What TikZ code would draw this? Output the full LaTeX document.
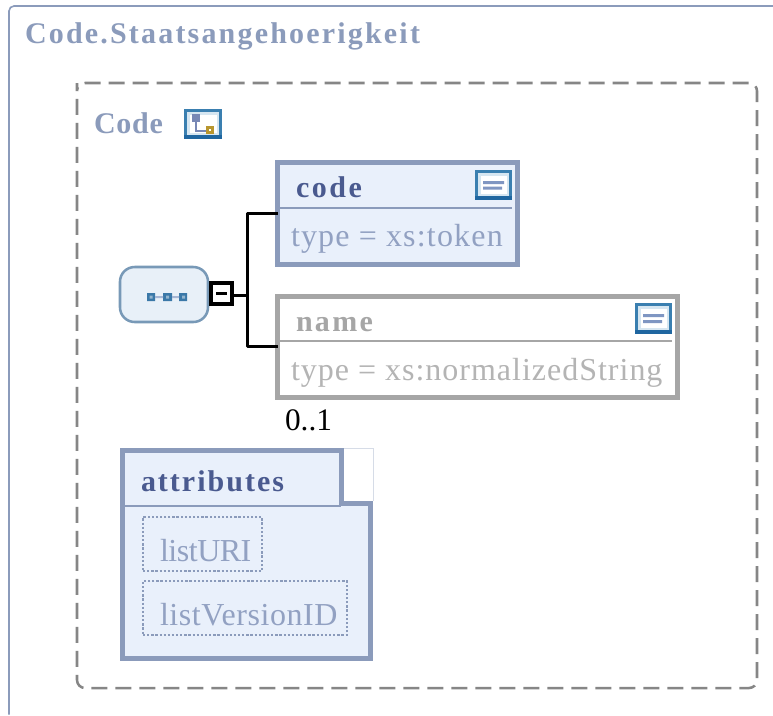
\documentclass[tikz,border=0pt]{standalone}
\usepackage{fontspec}
\setmainfont{Liberation Serif}
\definecolor{frameblue}{HTML}{8B9BBB}
\definecolor{panelfill}{HTML}{E9F0FB}
\definecolor{headblue}{HTML}{4A5A8F}
\definecolor{typeblue}{HTML}{92A1C2}
\definecolor{optgray}{HTML}{A6A6A6}
\definecolor{typegray}{HTML}{B4B4B4}
\definecolor{dashgray}{HTML}{868686}
\definecolor{seqedge}{HTML}{7899B7}
\definecolor{seqfill}{HTML}{E8F0F8}
\definecolor{icontop}{HTML}{3A7FB0}
\definecolor{iconlow}{HTML}{1F66A0}
\definecolor{iconin}{HTML}{D6E6F1}
\definecolor{iconbar}{HTML}{7F96C2}
\definecolor{icongold}{HTML}{B8962E}
\definecolor{iconnode}{HTML}{7888B5}
\definecolor{dotblue}{HTML}{3A78A8}
\newcommand{\lsp}[1]{\addfontfeature{LetterSpace=#1}}
\newcommand{\doticon}[4]{% x1,y1,x2,y2
  \fill[icontop] (#1,#2) rectangle (#3,#4);
  \fill[iconlow] (#1,#4-4) rectangle (#3,#4);
  \fill[iconin] (#1+3,#2+3) rectangle (#3-3,#4-4);
  \fill[white] (#1+6,#2+6) rectangle (#3-5,#4-6);
}
\tikzset{
  x=0.75pt,y=-0.75pt,
  txt/.style={anchor=base west,inner sep=0pt,outer sep=0pt,font=\fontsize{24pt}{26pt}\selectfont},
  boldtxt/.style={txt,font=\fontsize{22.5pt}{26pt}\selectfont\bfseries},
  panel/.style={rectangle,draw=frameblue,fill=panelfill,line width=3.75pt,outer sep=0pt,inner sep=0pt},
  optpanel/.style={rectangle,draw=optgray,fill=white,line width=3.75pt,outer sep=0pt,inner sep=0pt},
  attrbox/.style={rectangle,draw=frameblue,line width=1.8pt,outer sep=0pt,inner sep=0pt,
    dash pattern=on 1.7pt off 1.4pt},
  conn/.style={draw=black,line width=1.9pt,line join=round},
  divider/.style={line width=1.5pt},
}
\begin{document}
\begin{tikzpicture}
\useasboundingbox (0,0) rectangle (773,715);
\fill[white] (0,0) rectangle (773,715);
% outer frame
\draw[frameblue,line width=1.2pt,rounded corners=3.75pt] (9,714.5) -- (9,6) -- (773,6);
\node[boldtxt,text=frameblue] (title) at (25,43) {\lsp{7.3}Code.Staatsangehoerigkeit};
% dashed frame
\draw[dashgray,line width=1.9pt,rounded corners=6pt,dash pattern=on 12pt off 6pt,dash phase=3pt]
  (77,91) -- (77,83) -- (757,83) -- (757,688) -- (77,688) -- cycle;
\node[boldtxt,text=frameblue] (codelabel) at (94,133) {\lsp{2.5}Code};
% tree icon
\doticon{184}{109}{222}{139}
\draw[iconnode,line width=1.8pt] (196,120) -- (196,131) -- (207,131);
\fill[iconnode] (192,114) rectangle (200,122);
\fill[icongold] (206,126) rectangle (213.5,133.5);
\fill[white] (208.5,128.5) rectangle (211,131);
% sequence compositor
\node[rectangle,rounded corners=11pt,draw=seqedge,fill=seqfill,line width=1.9pt,minimum width=66pt,minimum height=41.25pt,inner sep=0pt,outer sep=0pt] (seq) at (164,294.5) {};
\fill[dotblue] (147,293) rectangle (155,301) (163,293) rectangle (172,301) (179,293) rectangle (187,301);
\fill[iconbar!70] (155,296) rectangle (163,298) (172,296) rectangle (179,298);
\fill[dotblue!55!white] (149.5,295.5) rectangle (152.5,298.5) (166,295.5) rectangle (169,298.5) (182,295.5) rectangle (185,298.5);
% boxes
\node[panel,minimum width=180pt,minimum height=76.5pt] (code) at (397.5,213.5) {};
\node[optpanel,minimum width=300pt,minimum height=76.1pt] (name) at (477.5,346.75) {};
\node[rectangle,draw=black,fill=white,line width=2.3pt,minimum width=15.75pt,minimum height=15.75pt,inner sep=0pt,outer sep=0pt] (minus) at (221.5,293.5) {};
\draw[black,line width=2.1pt] ([xshift=-4pt]minus.center) -- ([xshift=4pt]minus.center);
% connectors
\coordinate (trunk) at (247.5,295.5);
\draw[conn] ([yshift=-1.5pt]minus.east) -- (trunk);
\draw[conn] (code.west) -| (trunk) |- (name.west);
% code box content
\draw[frameblue,divider] (280,207.5) -- (512,207.5);
\node[boldtxt,text=headblue] (codehead) at (296,197) {\lsp{8.5}code};
\node[txt,text=typeblue] (codetype) at (291,246) {\lsp{3.7}type = xs:token};
\doticon{475}{170}{512}{200}
\fill[iconbar] (483,181) rectangle (504,184) (483,186.5) rectangle (502,189.5);
% name box content
\draw[optgray,divider] (280,341) -- (672,341);
\node[boldtxt,text=optgray] (namehead) at (296,331) {\lsp{7.8}name};
\node[txt,text=typegray] (nametype) at (291,380) {\lsp{3.1}type = xs:normalizedString};
\doticon{635}{303}{672}{334}
\fill[iconbar] (643,314) rectangle (664,317) (643,320) rectangle (662,323);
\node[txt,text=black,font=\fontsize{23.5pt}{26pt}\selectfont] (occurs) at (285,430) {0..1};
% attributes box
\draw[frameblue,fill=panelfill,line width=3.75pt,miter limit=10]
  (122.5,450.5) -- (341.5,450.5) -- (341.5,503.5) -- (370.5,503.5) -- (370.5,658.5) -- (122.5,658.5) -- cycle;
\draw[frameblue!35,line width=0.5pt] (344,448) -- (373,448) -- (373,501);
\draw[frameblue,divider] (125,506) -- (341,506);
\node[boldtxt,text=headblue] (attrhead) at (141,491) {\lsp{6.7}attributes};
\node[attrbox,minimum width=89.25pt,minimum height=40.5pt] (uribox) at (202.5,544) {};
\node[attrbox,minimum width=153pt,minimum height=40.5pt] (verbox) at (245,608) {};
\node[txt,text=typeblue] (uri) at (160,561) {\lsp{-1.5}listURI};
\node[txt,text=typeblue] (ver) at (160,625) {\lsp{1.8}listVersionID};
\end{tikzpicture}
\end{document}
